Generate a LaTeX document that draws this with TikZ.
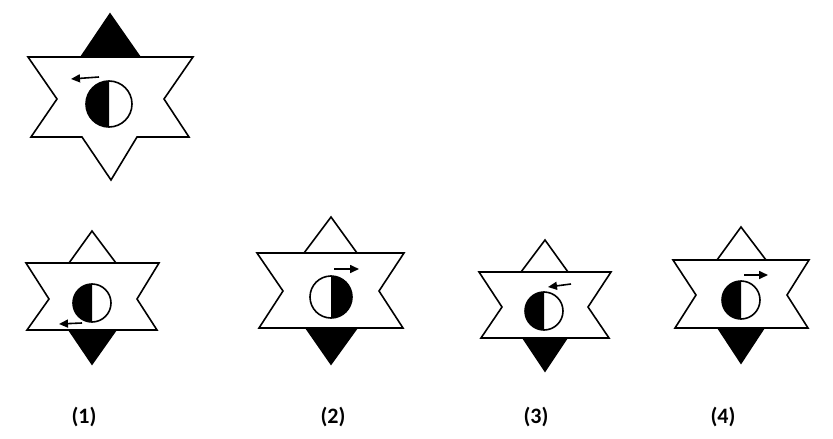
\documentclass[tikz,border=0pt]{standalone}
\usepackage{fontspec}
\newfontfamily\labelfont{Carlito}
\usepackage{tikz}
\usetikzlibrary{arrows.meta}
\usetikzlibrary{positioning}

\begin{document}
\begin{tikzpicture}[x=1pt, y=-1pt,
				starline/.style={draw, line width=1.6pt, line join=miter, fill=white},
				bandline/.style={draw, line width=1.6pt},
				ring/.style={draw, line width=1.6pt},
				turn/.style={line width=1.6pt, -{Triangle[length=9pt, width=8pt]}},
				optlabel/.style={font=\labelfont\bfseries\fontsize{22}{26}\selectfont}]
				\useasboundingbox (0,0) rectangle (833,439);
				
				% question figure
				\draw[starline] (110,14) -- (140,57) -- (193,57) -- (164,99) -- (189,137) -- (137,137) -- (111,180) -- (82,137) -- (31,137) -- (57,99) -- (28,57) -- (81,57) -- cycle;
				\fill (110,14) -- (140,57) -- (81,57) -- cycle;
				\draw[bandline] (28,57) -- (193,57);
				\fill (109,104) ++(0,-23) arc[start angle=90, end angle=270, radius=23pt] -- cycle;
				\draw[ring] (109,104) circle[radius=23pt];
				\coordinate (q0) at (99,77);
				\coordinate (q1) at (71,79);
				\draw[turn] (q0) -- (q1);
				
				% option (1)
				\draw[starline] (92,231) -- (116,263) -- (159,263) -- (137,299) -- (157,330) -- (116,330) -- (92,364) -- (69,330) -- (27,330) -- (49,299) -- (26,263) -- (69,263) -- cycle;
				\fill (69,330) -- (116,330) -- (92,364) -- cycle;
				\draw[bandline] (26,263) -- (159,263);
				\draw[bandline] (27,330) -- (157,330);
				\fill (92,303) ++(0,-19) arc[start angle=90, end angle=270, radius=19pt] -- cycle;
				\draw[ring] (92,303) circle[radius=19pt];
				\coordinate (a0) at (82,323);
				\coordinate (a1) at (59,324);
				\draw[turn] (a0) -- (a1);
				
				% option (2)
				\draw[starline] (331,217) -- (357,253) -- (404,253) -- (379,291) -- (403,328) -- (357,328) -- (331,364) -- (306,328) -- (259,328) -- (283,291) -- (257,253) -- (304,253) -- cycle;
				\fill (306,328) -- (357,328) -- (331,364) -- cycle;
				\draw[bandline] (257,253) -- (404,253);
				\draw[bandline] (259,328) -- (403,328);
				\fill (331,297) ++(0,-21) arc[start angle=90, end angle=-90, radius=21pt] -- cycle;
				\draw[ring] (331,297) circle[radius=21pt];
				\coordinate (b0) at (334,269);
				\coordinate (b1) at (359,269);
				\draw[turn] (b0) -- (b1);
				
				% option (3)
				\draw[starline] (545,240) -- (568,272) -- (611,272) -- (588,307) -- (609,338) -- (567,338) -- (545,371) -- (523,338) -- (481,338) -- (502,307) -- (479,272) -- (521,272) -- cycle;
				\fill (523,338) -- (567,338) -- (545,371) -- cycle;
				\draw[bandline] (479,272) -- (611,272);
				\draw[bandline] (481,338) -- (609,338);
				\fill (544,311) ++(0,-19) arc[start angle=90, end angle=270, radius=19pt] -- cycle;
				\draw[ring] (544,311) circle[radius=19pt];
				\coordinate (c0) at (571,284);
				\coordinate (c1) at (548,287);
				\draw[turn] (c0) -- (c1);
				
				% option (4)
				\draw[starline] (741,227) -- (766,260) -- (809,260) -- (787,295) -- (808,328) -- (764,328) -- (741,363) -- (718,328) -- (675,328) -- (696,295) -- (673,260) -- (717,260) -- cycle;
				\fill (718,328) -- (764,328) -- (741,363) -- cycle;
				\draw[bandline] (673,260) -- (809,260);
				\draw[bandline] (675,328) -- (808,328);
				\fill (741,300) ++(0,-19) arc[start angle=90, end angle=270, radius=19pt] -- cycle;
				\draw[ring] (741,300) circle[radius=19pt];
				\coordinate (d0) at (744,275);
				\coordinate (d1) at (768,275);
				\draw[turn] (d0) -- (d1);
				
				% option labels
				\node[optlabel] (lab1) at (84,417) {(1)};
				\node[optlabel] (lab2) at (333,417) {(2)};
				\node[optlabel] (lab3) at (536,417) {(3)};
				\node[optlabel] (lab4) at (723,417) {(4)};
			\end{tikzpicture}
\end{document}
